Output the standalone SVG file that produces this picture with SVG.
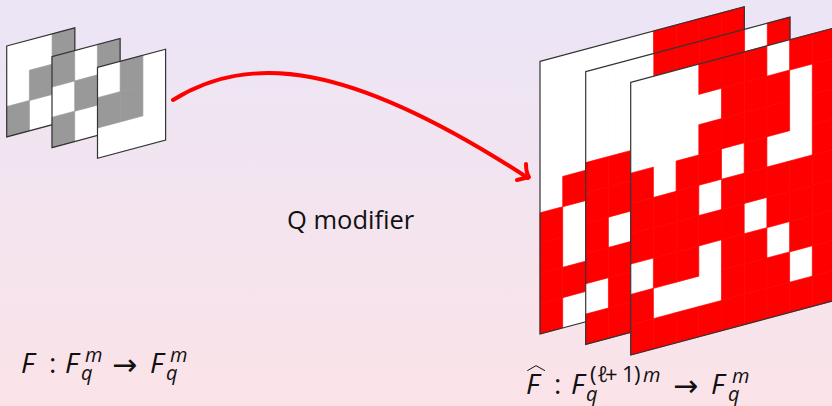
<svg xmlns="http://www.w3.org/2000/svg" width="832" height="406" viewBox="0 0 832 406">
<style>
.w{fill:#fff}.r{fill:#f00;stroke:#f00;stroke-width:.024}.k{fill:#999;stroke:#999;stroke-width:.024}
.b{fill:#fbf6fa}
.o{fill:none;stroke:#333;stroke-width:1.2}
text{font-family:"Open Sans","Noto Sans",sans-serif;fill:#111}
.m{font-size:28px}
.i{font-style:italic}
.s{font-size:20px}
.p{font-size:22px}
.a{font-family:"DejaVu Sans",sans-serif;font-size:30px}
</style>
<defs>
<linearGradient id="bg" x1="0" y1="0" x2="0" y2="1"><stop offset="0" stop-color="#ebe5f6"/><stop offset="1" stop-color="#fbe3e8"/></linearGradient>
<path id="c" d="M0 0h1v1h-1z"/>
</defs>
<rect width="832" height="406" fill="url(#bg)"/>
<g id="small-panel-1">
<polygon class="b" points="6.7,46 74.8,27.8 74.8,118.7 6.7,136.9"/>
<g transform="matrix(22.7 -6.07 0 30.3 6.7 46)">
<g class="w"><use href="#c" x="0" y="0"/><use href="#c" x="0" y="1"/><use href="#c" x="1" y="0"/><use href="#c" x="1" y="2"/></g>
<g class="k"><use href="#c" x="0" y="2"/><use href="#c" x="1" y="1"/><use href="#c" x="2" y="0"/></g>
</g>
<polygon class="o" points="6.7,46 74.8,27.8 74.8,118.7 6.7,136.9"/>
</g>
<g id="small-panel-2">
<polygon class="b" points="52,56.7 120.1,38.5 120.1,129.4 52,147.6"/>
<g transform="matrix(22.7 -6.07 0 30.3 52 56.7)">
<g class="w"><use href="#c" x="0" y="1"/><use href="#c" x="1" y="0"/><use href="#c" x="1" y="2"/></g>
<g class="k"><use href="#c" x="0" y="0"/><use href="#c" x="0" y="2"/><use href="#c" x="1" y="1"/><use href="#c" x="2" y="0"/></g>
</g>
<polygon class="o" points="52,56.7 120.1,38.5 120.1,129.4 52,147.6"/>
</g>
<g id="small-panel-3">
<polygon class="b" points="97.5,67.4 165.6,49.2 165.6,140.1 97.5,158.3"/>
<g transform="matrix(22.7 -6.07 0 30.3 97.5 67.4)">
<g class="w"><use href="#c" x="0" y="0"/><use href="#c" x="0" y="2"/><use href="#c" x="1" y="2"/><use href="#c" x="2" y="0"/><use href="#c" x="2" y="1"/><use href="#c" x="2" y="2"/></g>
<g class="k"><use href="#c" x="0" y="1"/><use href="#c" x="1" y="0"/><use href="#c" x="1" y="1"/></g>
</g>
<polygon class="o" points="97.5,67.4 165.6,49.2 165.6,140.1 97.5,158.3"/>
</g>
<g id="large-panel-1">
<polygon class="b" points="540,61.3 744.3,6.7 744.3,279.4 540,334"/>
<g transform="matrix(22.7 -6.07 0 30.3 540 61.3)">
<g class="w"><use href="#c" x="0" y="0"/><use href="#c" x="0" y="1"/><use href="#c" x="0" y="2"/><use href="#c" x="0" y="3"/><use href="#c" x="0" y="4"/><use href="#c" x="1" y="0"/><use href="#c" x="1" y="1"/><use href="#c" x="1" y="2"/><use href="#c" x="1" y="3"/><use href="#c" x="1" y="5"/><use href="#c" x="1" y="6"/><use href="#c" x="1" y="8"/><use href="#c" x="2" y="0"/><use href="#c" x="3" y="0"/><use href="#c" x="4" y="0"/></g>
<g class="r"><use href="#c" x="0" y="5"/><use href="#c" x="0" y="6"/><use href="#c" x="0" y="7"/><use href="#c" x="0" y="8"/><use href="#c" x="1" y="4"/><use href="#c" x="1" y="7"/><use href="#c" x="5" y="0"/><use href="#c" x="6" y="0"/><use href="#c" x="7" y="0"/><use href="#c" x="8" y="0"/></g>
</g>
<polygon class="o" points="540,61.3 744.3,6.7 744.3,279.4 540,334"/>
</g>
<g id="large-panel-2">
<polygon class="b" points="585.7,71.7 790,17.1 790,289.8 585.7,344.4"/>
<g transform="matrix(22.7 -6.07 0 30.3 585.7 71.7)">
<g class="w"><use href="#c" x="0" y="0"/><use href="#c" x="0" y="1"/><use href="#c" x="0" y="2"/><use href="#c" x="0" y="7"/><use href="#c" x="1" y="0"/><use href="#c" x="1" y="1"/><use href="#c" x="1" y="2"/><use href="#c" x="1" y="5"/><use href="#c" x="2" y="0"/><use href="#c" x="7" y="0"/></g>
<g class="r"><use href="#c" x="0" y="3"/><use href="#c" x="0" y="4"/><use href="#c" x="0" y="5"/><use href="#c" x="0" y="6"/><use href="#c" x="0" y="8"/><use href="#c" x="1" y="3"/><use href="#c" x="1" y="4"/><use href="#c" x="1" y="6"/><use href="#c" x="1" y="7"/><use href="#c" x="1" y="8"/><use href="#c" x="3" y="0"/><use href="#c" x="4" y="0"/><use href="#c" x="5" y="0"/><use href="#c" x="6" y="0"/><use href="#c" x="8" y="0"/></g>
</g>
<polygon class="o" points="585.7,71.7 790,17.1 790,289.8 585.7,344.4"/>
</g>
<g id="large-panel-3">
<polygon class="b" points="630.7,82.3 835,27.7 835,300.4 630.7,355"/>
<g transform="matrix(22.7 -6.07 0 30.3 630.7 82.3)">
<g class="w"><use href="#c" x="0" y="0"/><use href="#c" x="0" y="1"/><use href="#c" x="0" y="2"/><use href="#c" x="0" y="6"/><use href="#c" x="1" y="0"/><use href="#c" x="1" y="1"/><use href="#c" x="1" y="2"/><use href="#c" x="1" y="3"/><use href="#c" x="1" y="7"/><use href="#c" x="2" y="0"/><use href="#c" x="2" y="1"/><use href="#c" x="2" y="2"/><use href="#c" x="2" y="7"/><use href="#c" x="3" y="1"/><use href="#c" x="3" y="4"/><use href="#c" x="3" y="6"/><use href="#c" x="3" y="7"/><use href="#c" x="4" y="3"/><use href="#c" x="5" y="5"/><use href="#c" x="6" y="0"/><use href="#c" x="6" y="3"/><use href="#c" x="6" y="6"/><use href="#c" x="7" y="1"/><use href="#c" x="7" y="2"/><use href="#c" x="7" y="3"/><use href="#c" x="7" y="7"/></g>
<g class="r"><use href="#c" x="0" y="3"/><use href="#c" x="0" y="4"/><use href="#c" x="0" y="5"/><use href="#c" x="0" y="7"/><use href="#c" x="0" y="8"/><use href="#c" x="1" y="4"/><use href="#c" x="1" y="5"/><use href="#c" x="1" y="6"/><use href="#c" x="1" y="8"/><use href="#c" x="2" y="3"/><use href="#c" x="2" y="4"/><use href="#c" x="2" y="5"/><use href="#c" x="2" y="6"/><use href="#c" x="2" y="8"/><use href="#c" x="3" y="0"/><use href="#c" x="3" y="2"/><use href="#c" x="3" y="3"/><use href="#c" x="3" y="5"/><use href="#c" x="3" y="8"/><use href="#c" x="4" y="0"/><use href="#c" x="4" y="1"/><use href="#c" x="4" y="2"/><use href="#c" x="4" y="4"/><use href="#c" x="4" y="5"/><use href="#c" x="4" y="6"/><use href="#c" x="4" y="7"/><use href="#c" x="4" y="8"/><use href="#c" x="5" y="0"/><use href="#c" x="5" y="1"/><use href="#c" x="5" y="2"/><use href="#c" x="5" y="3"/><use href="#c" x="5" y="4"/><use href="#c" x="5" y="6"/><use href="#c" x="5" y="7"/><use href="#c" x="5" y="8"/><use href="#c" x="6" y="1"/><use href="#c" x="6" y="2"/><use href="#c" x="6" y="4"/><use href="#c" x="6" y="5"/><use href="#c" x="6" y="7"/><use href="#c" x="6" y="8"/><use href="#c" x="7" y="0"/><use href="#c" x="7" y="4"/><use href="#c" x="7" y="5"/><use href="#c" x="7" y="6"/><use href="#c" x="7" y="8"/><use href="#c" x="8" y="0"/><use href="#c" x="8" y="1"/><use href="#c" x="8" y="2"/><use href="#c" x="8" y="3"/><use href="#c" x="8" y="4"/><use href="#c" x="8" y="5"/><use href="#c" x="8" y="6"/><use href="#c" x="8" y="7"/><use href="#c" x="8" y="8"/></g>
</g>
<polygon class="o" points="630.7,82.3 835,27.7 835,300.4 630.7,355"/>
</g>
<g id="connectors" fill="none" stroke="#f00" stroke-width="4" stroke-linecap="round" stroke-linejoin="round">
<path d="M173,100 C250,52 350,62 528,178"/>
<path d="M526,164 C526,170 527,174 529,177 C525,178 521,179 517,180"/>
</g>
<g id="label-q-modifier"><text x="287" y="229" font-size="25.500">Q modifier</text></g>
<g id="label-f"><text class="m"><tspan class="i" x="21" y="373">F</tspan><tspan x="49" y="373">:</tspan><tspan class="i" x="65" y="373">F</tspan><tspan class="s i" x="85" y="362">m</tspan><tspan class="s i" x="81" y="380">q</tspan><tspan class="a" x="112" y="375">→</tspan><tspan class="i" x="150" y="373">F</tspan><tspan class="s i" x="170" y="362">m</tspan><tspan class="s i" x="166" y="380">q</tspan></text></g>
<g id="label-f-hat">
<path d="M527.300,370.700L536,365.700L545,370.700" fill="none" stroke="#111" stroke-width="1"/>
<text class="m"><tspan class="i" x="526" y="394">F</tspan><tspan x="554" y="394">:</tspan><tspan class="i" x="571" y="394">F</tspan><tspan class="s i" x="586" y="401">q</tspan><tspan class="p" x="590" y="382">(</tspan><tspan class="p i" x="597" y="382">ℓ</tspan><tspan class="p" x="605" y="382">+</tspan><tspan class="p" x="622" y="382">1</tspan><tspan class="p" x="634" y="382">)</tspan><tspan class="s i" x="643" y="382">m</tspan><tspan class="a" x="673" y="396">→</tspan><tspan class="i" x="711" y="394">F</tspan><tspan class="s i" x="732" y="383">m</tspan><tspan class="s i" x="728" y="401">q</tspan></text>
</g>
</svg>
